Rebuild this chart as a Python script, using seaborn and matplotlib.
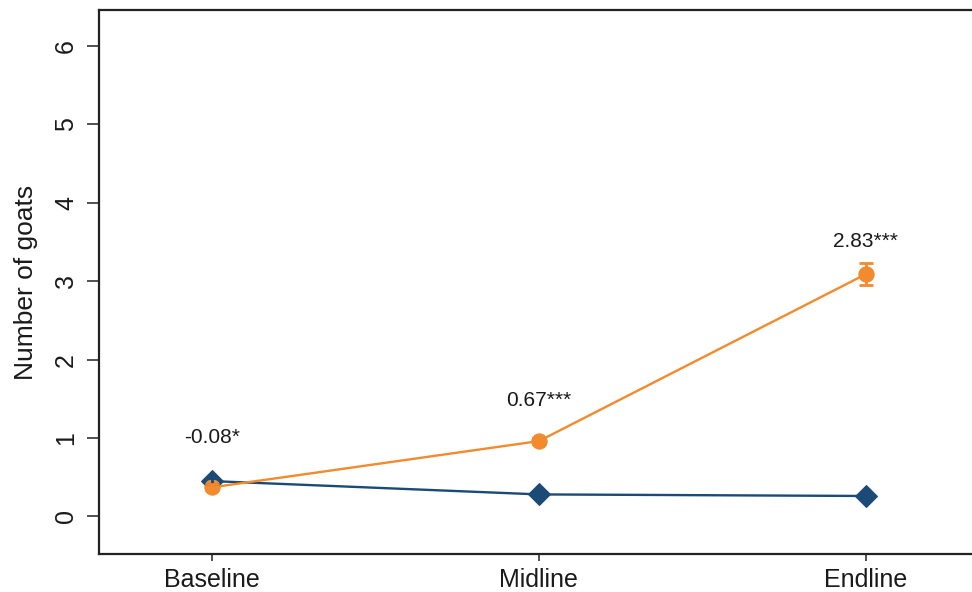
import matplotlib
matplotlib.use("Agg")
import matplotlib.pyplot as plt
import seaborn as sns
import pandas as pd
import numpy as np

# Survey rounds and mean number of goats per group
rounds = ["Baseline", "Midline", "Endline"]
control_mean = [0.45, 0.28, 0.26]
control_ci = [0.04, 0.03, 0.03]
treatment_mean = [0.37, 0.96, 3.09]
treatment_ci = [0.04, 0.04, 0.14]
effect_labels = ["-0.08*", "0.67***", "2.83***"]
label_y = [1.0, 1.48, 3.5]

yticks = [0, 1, 2, 3, 4, 5, 6]

sns.set_theme(style="white")
plt.rcParams["font.family"] = ["Liberation Sans", "DejaVu Sans"]

navy = "#1b4a76"
orange = "#f28a2e"
ink = "#1a1a1a"

x = np.arange(len(rounds))
df = pd.DataFrame({
    "round": np.concatenate([x, x]),
    "goats": control_mean + treatment_mean,
    "group": ["Control"] * 3 + ["Treatment"] * 3,
})

fig = plt.figure(figsize=(9.72, 5.92), dpi=100)
ax = fig.add_axes([0.1019, 0.0642, 0.905, 0.919])

sns.lineplot(data=df[df.group == "Control"], x="round", y="goats", ax=ax,
             color=navy, lw=1.7, marker="D", markersize=11,
             markeredgecolor=navy, legend=False)
sns.lineplot(data=df[df.group == "Treatment"], x="round", y="goats", ax=ax,
             color=orange, lw=1.7, marker="o", markersize=11,
             markeredgecolor=orange, legend=False)

ax.errorbar(x, control_mean, yerr=control_ci, fmt="none", ecolor=navy,
            elinewidth=2, capsize=5, capthick=2, zorder=4)
ax.errorbar(x, treatment_mean, yerr=treatment_ci, fmt="none", ecolor=orange,
            elinewidth=2, capsize=5, capthick=2, zorder=4)

for xi, yi, txt in zip(x, label_y, effect_labels):
    ax.text(xi, yi, txt, ha="center", va="center", fontsize=15, color=ink)

ax.set_xlim(-0.345, 2.345)
ax.set_ylim(-0.48, 6.46)
ax.set_xticks(x)
ax.set_xticklabels(rounds, fontsize=18, color=ink)
ax.set_yticks(yticks)
ax.set_yticklabels([str(t) for t in yticks], fontsize=18, rotation=90,
                   va="center", color=ink)
ax.set_xlabel("")
ax.set_ylabel("Number of goats", fontsize=19, labelpad=12, color=ink)

for side in ["left", "bottom", "top", "right"]:
    ax.spines[side].set_visible(True)
    ax.spines[side].set_color("#222222")
    ax.spines[side].set_linewidth(1.6)

ax.tick_params(axis="y", which="major", left=True, length=9, width=1.2,
               color="#333333", pad=6)
ax.tick_params(axis="x", which="major", bottom=True, length=5, width=1.2,
               color="#333333", pad=5)

fig.savefig("out.png", dpi=100, facecolor="white")
